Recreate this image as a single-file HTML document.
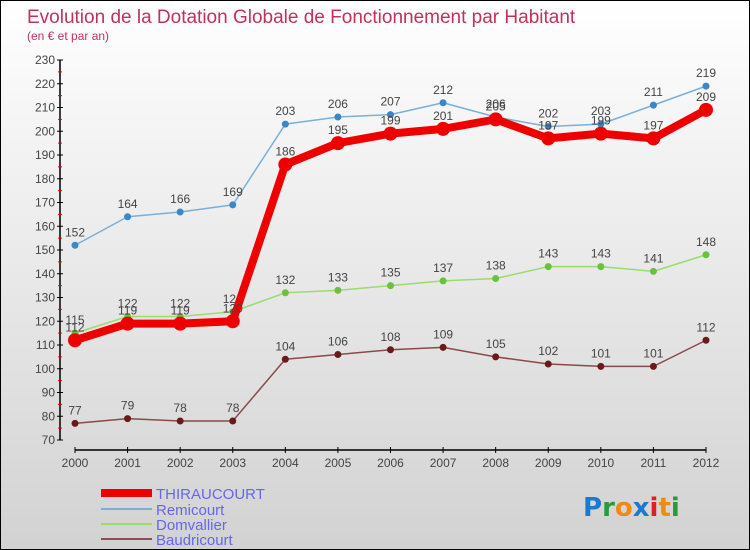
<!DOCTYPE html>
<html><head><meta charset="utf-8"><style>
body{margin:0}
#c{width:748px;height:548px;border:1px solid #000;background:linear-gradient(#fff,#d2d2d2);position:relative;font-family:"Liberation Sans",sans-serif;overflow:hidden}
</style></head><body>
<div id="c">
<svg id="s" width="748" height="548" xmlns="http://www.w3.org/2000/svg">
<text x="26" y="22" font-size="19" fill="#c0325a">Evolution de la Dotation Globale de Fonctionnement par Habitant</text>
<text x="26" y="39" font-size="12" fill="#c0325a">(en € et par an)</text>
<g id="axes"></g><g id="series"></g>
<g>
<line x1="100" y1="492" x2="151" y2="492" stroke="#e00" stroke-width="8"/>
<text x="155" y="498" font-size="15" fill="#66e">THIRAUCOURT</text>
<line x1="100" y1="508" x2="151" y2="508" stroke="#7ab0d8" stroke-width="2"/>
<text x="155" y="514" font-size="15" fill="#66e">Remicourt</text>
<line x1="100" y1="523" x2="151" y2="523" stroke="#9adc6e" stroke-width="2"/>
<text x="155" y="529" font-size="15" fill="#66e">Domvallier</text>
<line x1="100" y1="538" x2="151" y2="538" stroke="#8a5050" stroke-width="2"/>
<text x="155" y="544" font-size="15" fill="#66e">Baudricourt</text>
</g>
<text x="582" y="515" font-size="26" font-weight="bold" font-family="DejaVu Sans,sans-serif"><tspan fill="#1a7ad0">P</tspan><tspan fill="#2a9a3a">r</tspan><tspan fill="#f08a10">o</tspan><tspan fill="#1a7ad0">x</tspan><tspan fill="#e02020">i</tspan><tspan fill="#f08a10">t</tspan><tspan fill="#2a9a3a">i</tspan></text>
</svg></div>
<script>
const years=[2000,2001,2002,2003,2004,2005,2006,2007,2008,2009,2010,2011,2012];
const thiraucourt=[112,119,119,120,186,195,199,201,205,197,199,197,209];
const remicourt=[152,164,166,169,203,206,207,212,206,202,203,211,219];
const domvallier=[115,122,122,124,132,133,135,137,138,143,143,141,148];
const baudricourt=[77,79,78,78,104,106,108,109,105,102,101,101,112];
const yTicks=[70,80,90,100,110,120,130,140,150,160,170,180,190,200,210,220,230];
const NS='http://www.w3.org/2000/svg';
const X=i=>74+i*(631/(years.length-1));
const Y=v=>439-(v-70)*2.375;
function mk(t,a,p){const e=document.createElementNS(NS,t);for(const k in a)e.setAttribute(k,a[k]);p.appendChild(e);return e;}
const ax=document.getElementById('axes');
let yl=mk('line',{x1:59,y1:Y(230),x2:59,y2:Y(70),stroke:'#000','stroke-width':1.5},ax);


yTicks.forEach(v=>{
 mk('line',{x1:56,y1:Y(v),x2:62,y2:Y(v),stroke:'#000'},ax);
 if(v<230)mk('line',{x1:57,y1:Y(v+5),x2:61,y2:Y(v+5),stroke:'#e00'},ax);
 let t=mk('text',{x:54,y:Y(v)+4,'font-size':12,fill:'#444','text-anchor':'end'},ax);t.textContent=v;
 
 
});
let xl=mk('line',{x1:X(0),y1:449,x2:X(12),y2:449,stroke:'#000','stroke-width':1.5},ax);


years.forEach((y,i)=>{
 mk('line',{x1:X(i),y1:446,x2:X(i),y2:452,stroke:'#000'},ax);
 let t=mk('text',{x:X(i),y:466,'font-size':12,fill:'#444','text-anchor':'middle'},ax);t.textContent=y;
 
 
});
const sg=document.getElementById('series');
function series(data,name,col,dot,w,r){
 const g=mk('g',{},sg);
 
 
 mk('polyline',{points:data.map((v,i)=>X(i)+','+Y(v)).join(' '),fill:'none',stroke:col,'stroke-width':w,'stroke-linejoin':'round'},g);
 data.forEach((v,i)=>{
  const c=mk('circle',{cx:X(i),cy:Y(v),r:r,fill:dot},g);
  
  
  const t=mk('text',{x:X(i),y:Y(v)-9,'font-size':12,fill:'#444','text-anchor':'middle'},g);t.textContent=v;
  
  
 });
}
series(baudricourt,'baudricourt','#8a4a4a','#6a1a1a',1.5,3.5);
series(domvallier,'domvallier','#9adc6e','#6cc040',1.5,3.5);
series(remicourt,'remicourt','#7ab0d8','#3a88c8',1.5,3.5);
series(thiraucourt,'thiraucourt','#e00','#e00',8,7);
</script>
</body></html>
